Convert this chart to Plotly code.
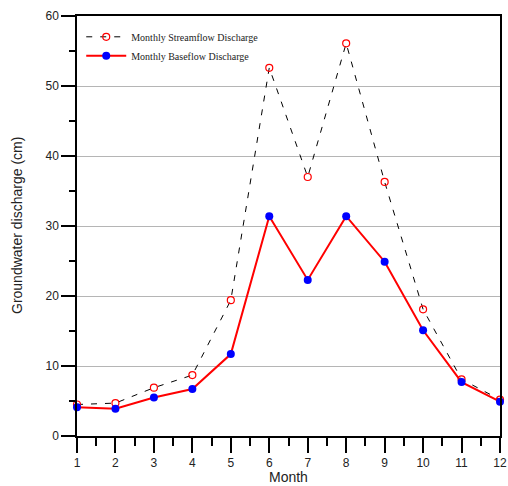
import plotly.graph_objects as go

months = [1, 2, 3, 4, 5, 6, 7, 8, 9, 10, 11, 12]
streamflow = [4.5, 4.7, 6.9, 8.7, 19.4, 52.6, 37.0, 56.1, 36.3, 18.1, 8.1, 5.2]
baseflow = [4.1, 3.9, 5.5, 6.7, 11.7, 31.4, 22.3, 31.4, 24.9, 15.1, 7.7, 4.9]

fig = go.Figure()
fig.add_trace(go.Scatter(
    x=months, y=streamflow, name="Monthly Streamflow Discharge",
    mode="lines+markers", cliponaxis=False,
    line=dict(color="black", width=1, dash="6px,8px"),
    marker=dict(symbol="circle-open", color="red", size=7, line=dict(width=1.2, color="red")),
))
fig.add_trace(go.Scatter(
    x=months, y=baseflow, name="Monthly Baseflow Discharge",
    mode="lines+markers", cliponaxis=False,
    line=dict(color="red", width=2),
    marker=dict(symbol="circle", color="blue", size=8),
))

axis_font = dict(family="Liberation Sans, Arial", size=12, color="#222")
title_font = dict(family="Liberation Sans, Arial", size=14, color="#222")
fig.update_layout(
    width=508, height=486,
    margin=dict(l=77, r=8, t=16, b=50),
    plot_bgcolor="white", paper_bgcolor="white",
    showlegend=True,
    legend=dict(x=0.01, y=0.985, xanchor="left", yanchor="top",
                bgcolor="rgba(0,0,0,0)",
                font=dict(family="Liberation Serif, Times New Roman", size=10, color="#222"),
                tracegroupgap=4, itemwidth=40),
    xaxis=dict(
        range=[1, 12], dtick=1, tick0=1, automargin=False,
        showline=True, linecolor="black", linewidth=1.5, mirror=True,
        ticks="outside", ticklen=15, tickcolor="black", tickwidth=1.5,
        minor=dict(ticks="outside", ticklen=8, dtick=0.5, tick0=1, tickcolor="black", tickwidth=1.5),
        showgrid=False, zeroline=False,
        tickfont=axis_font,
    ),
    yaxis=dict(
        range=[0, 60], dtick=10, automargin=False,
        showline=True, linecolor="black", linewidth=1.5, mirror=True,
        ticks="outside", ticklen=14, tickcolor="black", tickwidth=1.5,
        minor=dict(ticks="outside", ticklen=6, dtick=5, tickcolor="black", tickwidth=1.5),
        showgrid=True, gridcolor="#b5b5b5", gridwidth=1, zeroline=False,
        tickfont=axis_font,
    ),
    annotations=[
        dict(text="Month", xref="paper", yref="paper", x=0.5, y=0,
             xanchor="center", yanchor="middle", yshift=-41, showarrow=False, font=title_font),
        dict(text="Groundwater discharge (cm)", xref="paper", yref="paper", x=0, y=0.5,
             xanchor="center", yanchor="middle", xshift=-60, textangle=-90, showarrow=False, font=title_font),
    ],
)
fig.write_html("out.html", config={"displayModeBar": False},
               post_script="document.body.style.margin='0px';document.body.style.overflow='hidden';")
